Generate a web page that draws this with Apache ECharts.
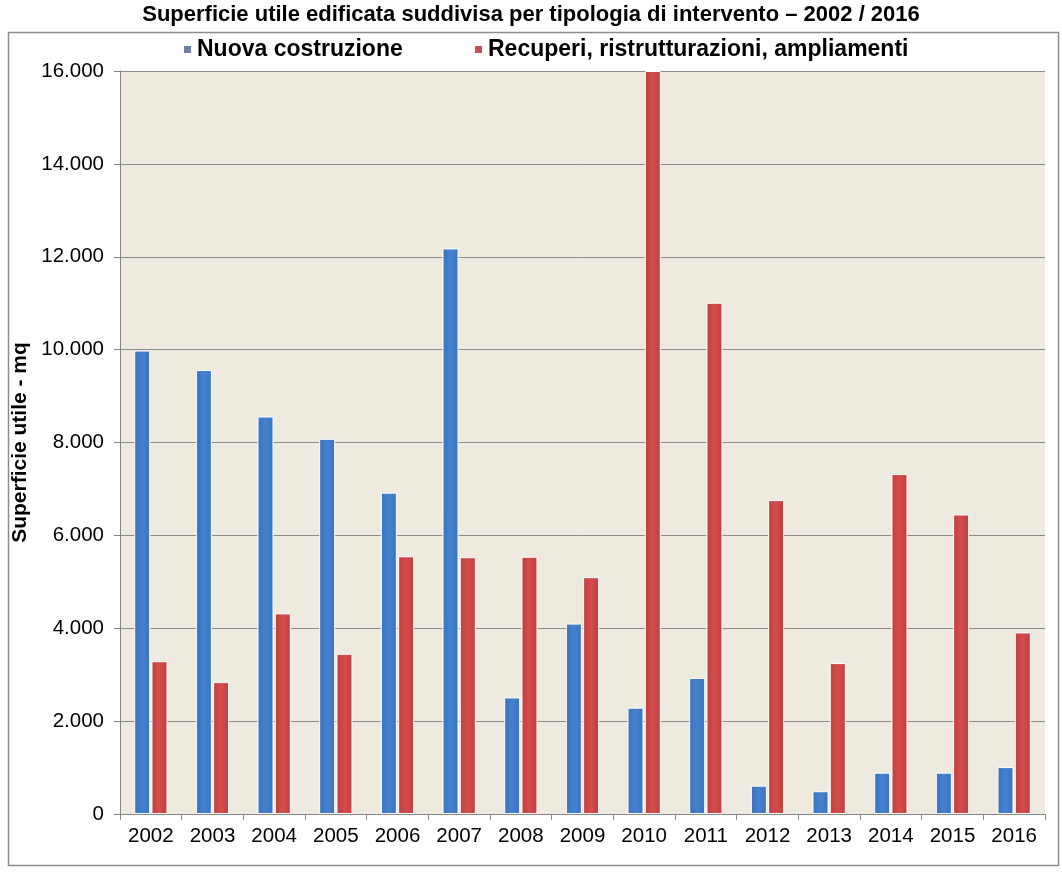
<!DOCTYPE html>
<html>
<head>
<meta charset="utf-8">
<script src="https://cdn.jsdelivr.net/npm/echarts@6/dist/echarts.min.js"></script>
<style>
  html, body { margin: 0; padding: 0; background: #ffffff; }
  #chart { width: 1062px; height: 872px; }
</style>
</head>
<body>
<div id="chart"></div>
<script>
// Anni di riferimento
const years = ['2002', '2003', '2004', '2005', '2006', '2007', '2008', '2009',
               '2010', '2011', '2012', '2013', '2014', '2015', '2016'];

// Superficie utile (mq) – nuova costruzione
const nuovaCostruzione = [9980, 9560, 8560, 8080, 6920, 12180, 2510, 4100,
                          2290, 2930, 610, 490, 890, 890, 1010];

// Superficie utile (mq) – recuperi, ristrutturazioni, ampliamenti
const recuperi = [3290, 2840, 4320, 3450, 5550, 5530, 5540, 5100,
                  16000, 11010, 6760, 3250, 7320, 6450, 3910];

const seriesNames = ['Nuova costruzione', 'Recuperi, ristrutturazioni, ampliamenti'];
const yTicks = { min: 0, max: 16000, step: 2000 };

const FONT = '"Liberation Sans", Arial, sans-serif';

function thousands(v) {
  return String(v).replace(/\B(?=(\d{3})+(?!\d))/g, '.');
}

function barGradient(c0, c1) {
  return new echarts.graphic.LinearGradient(0, 0, 1, 0, [
    { offset: 0, color: c0 },
    { offset: 0.5, color: c1 },
    { offset: 1, color: c0 }
  ]);
}

const legendText = { fontFamily: FONT, fontSize: 23, fontWeight: 'bold', color: '#000' };

const chart = echarts.init(document.getElementById('chart'), null, { renderer: 'canvas' });

chart.setOption({
  backgroundColor: '#ffffff',
  animation: false,
  title: {
    text: 'Superficie utile edificata suddivisa per tipologia di intervento \u2013 2002 / 2016',
    left: 'center',
    top: 4,
    padding: 0,
    textStyle: { fontFamily: FONT, fontSize: 22, fontWeight: 'bold', color: '#000' }
  },
  graphic: [{
    type: 'rect',
    shape: { x: 8.5, y: 32.5, width: 1050, height: 833 },
    style: { fill: 'none', stroke: '#8c8c8c', lineWidth: 1.5 },
    silent: true,
    z: -1
  }],
  legend: [
    {
      data: [{ name: seriesNames[0], itemStyle: { color: '#6F7FA8' } }],
      left: 182, top: 38, padding: 0,
      icon: 'rect', itemWidth: 9, itemHeight: 9,
      textStyle: legendText
    },
    {
      data: [{ name: seriesNames[1], itemStyle: { color: '#C4505A' } }],
      left: 473, top: 38, padding: 0,
      icon: 'rect', itemWidth: 9, itemHeight: 9,
      textStyle: legendText
    }
  ],
  grid: {
    left: 120, right: 17, top: 71, bottom: 58,
    show: true, backgroundColor: '#EEEADF', borderWidth: 0
  },
  xAxis: {
    type: 'category',
    data: years,
    axisLine: { lineStyle: { color: '#868686', width: 1 } },
    axisTick: { show: true, length: 6, lineStyle: { color: '#868686' } },
    axisLabel: { fontFamily: FONT, fontSize: 20.5, color: '#000', margin: 12 },
    splitLine: { show: false }
  },
  yAxis: {
    type: 'value',
    min: yTicks.min, max: yTicks.max, interval: yTicks.step,
    name: 'Superficie utile - mq',
    nameLocation: 'middle',
    nameGap: 80,
    nameTextStyle: { fontFamily: FONT, fontSize: 21, fontWeight: 'bold', color: '#000' },
    axisLine: { show: true, lineStyle: { color: '#868686', width: 1 } },
    axisTick: { show: true, length: 6, lineStyle: { color: '#868686' } },
    axisLabel: { fontFamily: FONT, fontSize: 20.5, color: '#000', margin: 16, formatter: thousands },
    splitLine: { lineStyle: { color: '#8a8a8a', width: 1 } }
  },
  series: [
    {
      name: seriesNames[0],
      type: 'bar',
      data: nuovaCostruzione,
      barWidth: 16,
      barGap: '8%',
      itemStyle: { color: barGradient('#3B72BE', '#4682CE'), borderColor: '#ffffff', borderWidth: 1 }
    },
    {
      name: seriesNames[1],
      type: 'bar',
      data: recuperi,
      barWidth: 16,
      barGap: '8%',
      itemStyle: { color: barGradient('#C23E3D', '#D24D4B'), borderColor: '#ffffff', borderWidth: 1 }
    }
  ]
});
</script>
</body>
</html>
